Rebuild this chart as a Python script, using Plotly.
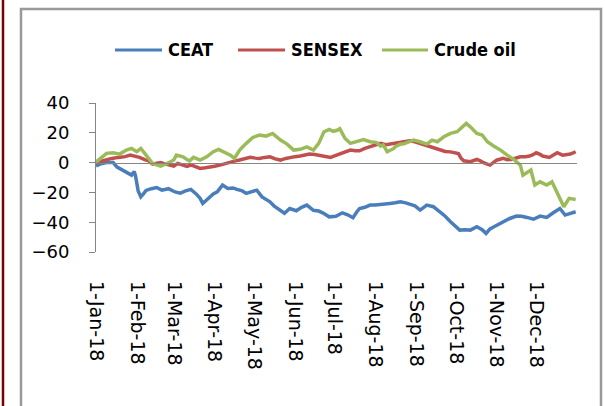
import pandas as pd
import plotly.graph_objects as go

# ---------------- data (days since 1-Jan-2018, % change) ----------------
ceat_days = [0, 3, 8, 13, 16, 20, 24, 27, 29, 30, 32, 34, 36, 38, 42, 46, 50, 55, 60, 64,
             68, 72, 76, 79, 81, 84, 86, 89, 92, 96, 100, 104, 107, 111, 114, 118, 122, 126,
             129, 132, 135, 138, 143, 147, 152, 156, 160, 165, 169, 172, 177, 182, 187, 191,
             195, 198, 200, 204, 208, 212, 216, 220, 223, 227, 231, 235, 238, 242, 246, 251,
             256, 261, 265, 269, 273, 276, 280, 284, 289, 293, 296, 299, 302, 306, 309, 314,
             319, 323, 327, 332, 337, 342, 347, 352, 356, 360, 364]
ceat_vals = [-2.3, -1, 0, 0, -3, -5, -7, -8.4, -6, -9, -19, -23, -21, -18.7, -17.5, -16.7,
             -18.5, -17.5, -19.7, -20.5, -19, -18, -21, -24, -27.4, -25, -24, -21, -19.6,
             -15.1, -17.4, -17, -18, -19, -20.7, -19.5, -18.5, -23, -24.5, -26.3, -29, -30.8,
             -34, -30.8, -32.3, -30, -28.5, -32, -32.5, -33.7, -36.4, -36, -33.7, -35, -37,
             -33, -30.8, -30, -28.5, -28.5, -27.9, -27.5, -27.4, -27, -26.3, -27, -27.9, -29,
             -31.9, -28.5, -29.6, -33, -36, -39.7, -43, -45.3, -45, -45.3, -43, -45, -47.5,
             -44.5, -43, -41, -39.7, -37.5, -35.9, -36, -36.8, -38, -35.9, -36.8, -33.7,
             -30.8, -35.2, -34, -33]

sensex_days = [0, 4, 8, 12, 17, 22, 26, 29, 33, 37, 40, 43, 46, 49, 53, 56, 59, 62, 66, 69,
               72, 76, 79, 83, 87, 90, 94, 98, 102, 105, 109, 113, 117, 121, 124, 128, 132,
               136, 140, 144, 147, 151, 155, 159, 162, 166, 170, 174, 178, 181, 185, 189, 193,
               197, 200, 204, 208, 212, 216, 220, 223, 227, 231, 235, 238, 242, 246, 250, 253,
               257, 261, 265, 269, 272, 275, 277, 279, 284, 289, 292, 294, 299, 302, 304, 309,
               312, 315, 319, 322, 326, 329, 332, 334, 337, 339, 344, 347, 350, 354, 357, 360,
               364]
sensex_vals = [0, 1, 2, 2.8, 3.5, 4, 5, 4.5, 3.5, 2, 1.2, -1, -0.5, 0, -1, -1.5, -2.3, -0.5,
               -1.6, -2.5, -1.6, -3, -3.9, -3.5, -3.2, -2.5, -1.7, -0.5, 0.6, 1, 1.7, 2.5, 3.5,
               3, 2.8, 3.5, 3.9, 2.5, 1.7, 2.8, 3.5, 4, 4.4, 5, 5.7, 5.5, 5, 4.5, 3.5, 4.5, 5.7,
               7, 8.4, 8, 7.9, 9.5, 10.6, 12, 12.9, 12, 12.4, 13, 14, 14.5, 14.7, 14, 12.9,
               11.5, 10.6, 9.5, 8.4, 7.5, 7.2, 6.8, 6.1, 3, 1.2, 0.6, 2.1, 1, -0.1, -1.7, 0,
               1.6, 2.8, 2, 2.1, 3, 3.9, 4, 4.4, 5.5, 6.6, 5.5, 4.4, 3.5, 5, 6.6, 5, 5.3, 5.7,
               7.3]

crude_days = [0, 3, 8, 13, 18, 23, 27, 31, 34, 38, 41, 43, 46, 49, 54, 59, 61, 66, 69, 71,
              74, 76, 79, 84, 89, 93, 97, 102, 105, 109, 114, 119, 124, 129, 134, 137, 140,
              145, 150, 155, 160, 165, 169, 173, 177, 180, 183, 185, 189, 193, 198, 203, 208,
              213, 216, 218, 221, 226, 227, 231, 233, 237, 241, 246, 251, 255, 259, 264, 269,
              274, 278, 281, 284, 289, 293, 297, 302, 307, 312, 317, 322, 324, 330, 333, 337,
              342, 346, 350, 355, 359, 364]
crude_vals = [0.3, 2.8, 6.2, 6.6, 5.7, 8.4, 9.5, 7.3, 9.5, 5, 2, -0.6, -1.5, -2.3, -0.6, 1.7,
              5, 3.9, 2.1, 1.2, 3.5, 2.8, 1.7, 3.9, 7.3, 8.9, 7.3, 5, 2.8, 8.4, 12.9, 16.9,
              18.5, 17.8, 19.6, 17, 15.1, 12.4, 8.4, 8.9, 10.6, 8.4, 12.9, 20.7, 22.2, 21,
              21.7, 22.8, 16.2, 12.9, 14, 15.5, 14, 13.4, 11, 11.8, 7.3, 9.5, 10.6, 12.4, 12.4,
              13.5, 15.1, 14, 12.4, 15.1, 14, 17.3, 19.6, 20.7, 24, 26.3, 24, 19.6, 18.5, 14,
              11, 8.4, 5, 2.1, -1.7, -8.4, -5, -15.1, -12.9, -15.1, -12.9, -20.7, -29.6, -24,
              -24.7]

tick_labels = ["1-Jan-18", "1-Feb-18", "1-Mar-18", "1-Apr-18", "1-May-18", "1-Jun-18",
               "1-Jul-18", "1-Aug-18", "1-Sep-18", "1-Oct-18", "1-Nov-18", "1-Dec-18"]
y_ticks = [-60, -40, -20, 0, 20, 40]

# ---------------- helpers ----------------
START = pd.Timestamp("2018-01-01")
END = pd.Timestamp("2019-01-01")


def to_dates(days):
    return [START + pd.Timedelta(days=d) for d in days]


month_starts = list(pd.date_range("2018-01-01", "2018-12-01", freq="MS"))
tick_marks = month_starts + [END]

W, H = 605, 406
L, R, T, B = 96, 577, 103, 252


def px(xp):
    return (xp - L) / (R - L)


def py(yp):
    return (B - yp) / (B - T)


fig = go.Figure()
series = [
    ("CEAT", ceat_days, ceat_vals, "#4a7ebb"),
    ("SENSEX", sensex_days, sensex_vals, "#c0504d"),
    ("Crude oil", crude_days, crude_vals, "#9bbb59"),
]
for name, d, v, c in series:
    fig.add_trace(go.Scatter(x=to_dates(d), y=v, mode="lines", name=name,
                             line=dict(color=c, width=3.5), showlegend=False))
# empty helper trace so that the axis drawn at y=0 is created
fig.add_trace(go.Scatter(x=[], y=[], xaxis="x2", showlegend=False, hoverinfo="skip"))

AX = "#868686"
fig.update_layout(
    width=W, height=H,
    margin=dict(l=L, r=W - R, t=T, b=H - B),
    paper_bgcolor="white", plot_bgcolor="white",
    showlegend=False,
    xaxis=dict(range=[START, END], tickvals=month_starts, ticktext=tick_labels,
               tickangle=90, showline=False, ticks="", showgrid=False, zeroline=False,
               ticklabelstandoff=28,
               tickfont=dict(family="DejaVu Sans", size=19, color="black")),
    xaxis2=dict(range=[START, END], overlaying="x", anchor="free", position=0.6,
                tickvals=tick_marks, showticklabels=False, showline=True, linecolor=AX,
                linewidth=1, ticks="outside", ticklen=6, tickcolor=AX, tickwidth=1,
                showgrid=False, zeroline=False),
    yaxis=dict(range=[-60, 40], tickvals=y_ticks, showline=True, linecolor=AX, linewidth=1,
               ticks="outside", ticklen=6, tickcolor=AX, showgrid=False, zeroline=False,
               ticklabelstandoff=16,
               tickfont=dict(family="DejaVu Sans", size=18, color="black")),
)

shapes = [
    dict(type="line", xref="paper", yref="paper", x0=px(3), x1=px(3), y0=py(0), y1=py(410),
         line=dict(color="#7b0000", width=2.5)),
    dict(type="rect", xref="paper", yref="paper", x0=px(21), x1=px(601), y0=py(9), y1=py(420),
         line=dict(color="#999999", width=2.5)),
]
legend_items = [("CEAT", 115, 162, "#4a7ebb"), ("SENSEX", 238, 285, "#c0504d"),
                ("Crude oil", 382, 428, "#9bbb59")]
annotations = []
for name, x0, x1, c in legend_items:
    shapes.append(dict(type="line", xref="paper", yref="paper", x0=px(x0), x1=px(x1),
                       y0=py(50), y1=py(50), line=dict(color=c, width=3)))
    annotations.append(dict(xref="paper", yref="paper", x=px(x1 + 4), y=py(50), text=name,
                            showarrow=False, xanchor="left", yanchor="middle",
                            font=dict(family="DejaVu Sans Condensed, Liberation Sans Narrow, Liberation Sans",
                                      size=18, weight="bold", color="black")))
fig.update_layout(shapes=shapes, annotations=annotations)

fig.write_html("out.html", config={"displayModeBar": False},
               post_script="document.body.style.margin='0';document.body.style.overflow='hidden';")
